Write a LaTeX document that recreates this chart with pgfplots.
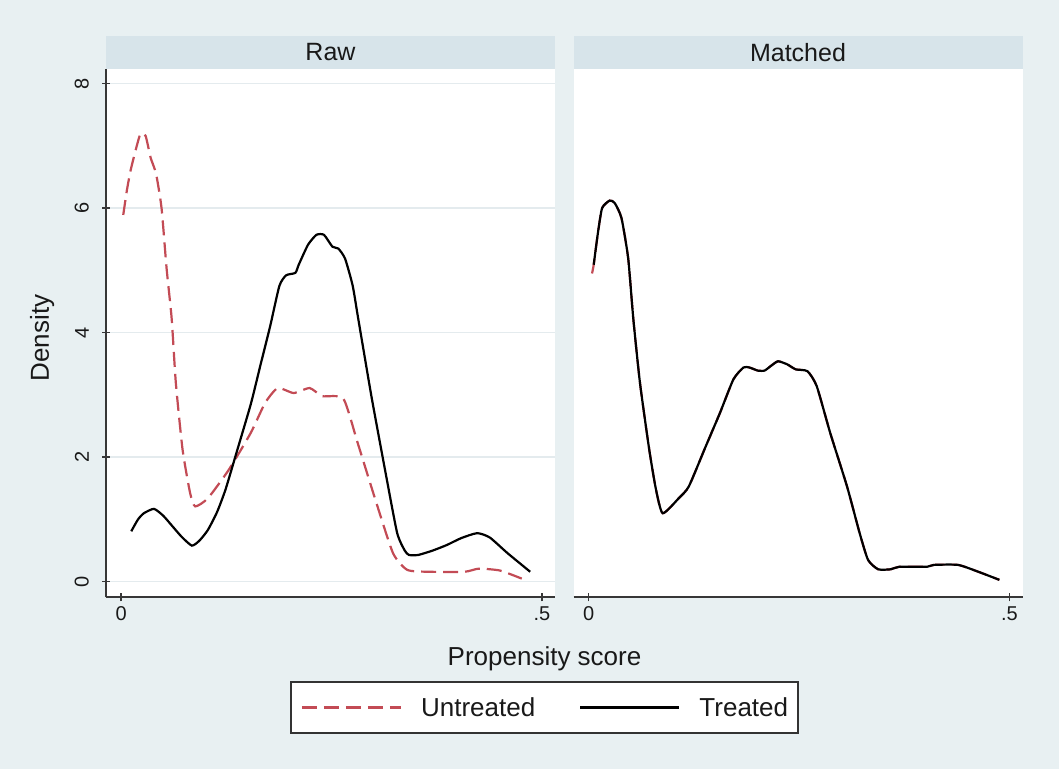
\documentclass[border=0pt]{standalone}
\usepackage{pgfplots}
\pgfplotsset{compat=1.18}
\usepackage{fontspec}
\setmainfont{Liberation Sans}

\definecolor{bgc}{RGB}{232,240,242}
\definecolor{stripc}{RGB}{215,228,234}
\definecolor{gridc}{RGB}{228,235,238}
\definecolor{axisc}{RGB}{55,55,55}
\definecolor{untr}{RGB}{195,75,85}
\definecolor{txtc}{RGB}{25,25,25}

\pgfplotsset{
  panel/.style={
    scale only axis, width=449pt, height=528.3pt, anchor=south west,
    xmin=-0.018, xmax=0.5155, ymin=-0.25, ymax=8.233,
    axis background/.style={fill=white},
    xtick={0,0.5}, xticklabels={0,.5},
    ytick={0,2,4,6,8},
    ymajorgrids, grid style={gridc, line width=1.4pt},
    tick align=outside, major tick length=8pt,
    tick style={axisc, line width=1.4pt},
    every non boxed x axis/.append style={x axis line style=-},
    every non boxed y axis/.append style={y axis line style=-},
    axis line style={-, axisc, line width=1.8pt},
    axis x line=bottom,
    tick label style={font=\fontsize{20pt}{24pt}\selectfont, text=txtc},
    xticklabel style={anchor=north, inner sep=0pt},
    xticklabel shift=5pt,
    every axis title/.style={at={(0.5,1)}, anchor=south, fill=stripc,
      minimum width=449pt, minimum height=33pt, inner sep=0pt, text=txtc,
      font=\fontsize{25pt}{30pt}\selectfont},
    label style={font=\fontsize{26pt}{31pt}\selectfont, text=txtc},
  },
  untreated/.style={untr, line width=2.2pt, dash pattern=on 15pt off 7pt,
    smooth, tension=0.35},
  treated/.style={black, line width=2.2pt, smooth, tension=0.35},
}

\begin{document}
\begin{tikzpicture}
\fill[bgc] (0,0) rectangle (1059pt,769pt);
\useasboundingbox (0,0) rectangle (1059pt,769pt);

% Raw
\begin{axis}[panel, at={(106pt,171.7pt)},
  axis y line=left,
  title={Raw},
  yticklabels={0,2,4,6,8},
  yticklabel style={rotate=90, anchor=south, inner sep=0pt},
  yticklabel shift=13pt,
  xlabel={Propensity score},
  xlabel style={at={(axis description cs:0.9766,-0.1295)}, anchor=base},
  ylabel={Density},
  ylabel style={at={(axis description cs:-0.127,0.491)}, anchor=base},
  legend columns=2,
  legend image code/.code={\draw[#1] (0pt,0pt) -- (99pt,0pt);},
  legend style={at={(axis description cs:0.9766,-0.2086)}, anchor=center,
    draw=black!80, line width=2pt, fill=white,
    font=\fontsize{26pt}{31pt}\selectfont, text=txtc,
    inner xsep=10pt, inner ysep=15pt, nodes={inner sep=0pt},
    /tikz/every odd column/.append style={column sep=19pt},
    /tikz/every even column/.append style={column sep=44pt}},
]
\addplot[untreated] coordinates {
  (0.0025,5.89) (0.007,6.30) (0.012,6.65) (0.0225,7.18) (0.029,7.16)
  (0.035,6.81) (0.0415,6.55) (0.048,6.00) (0.054,5.03) (0.060,4.23)
  (0.065,3.19) (0.073,2.12) (0.082,1.42) (0.088,1.21) (0.103,1.34)
  (0.128,1.80) (0.154,2.39) (0.171,2.87) (0.186,3.11) (0.205,3.03)
  (0.224,3.11) (0.239,2.98) (0.264,2.94) (0.281,2.23) (0.302,1.32)
  (0.323,0.46) (0.340,0.19) (0.366,0.16) (0.408,0.16) (0.425,0.21)
  (0.450,0.18) (0.476,0.05)
};
\addlegendentry{Untreated}
\addplot[treated] coordinates {
  (0.012,0.81) (0.020,1.00) (0.027,1.10) (0.039,1.17) (0.050,1.06)
  (0.061,0.89) (0.072,0.72) (0.084,0.58) (0.093,0.66) (0.103,0.83)
  (0.114,1.12) (0.124,1.48) (0.137,2.07) (0.154,2.85) (0.165,3.45)
  (0.177,4.10) (0.188,4.75) (0.196,4.92) (0.207,4.96) (0.211,5.09)
  (0.222,5.41) (0.232,5.57) (0.241,5.57) (0.251,5.38) (0.258,5.35)
  (0.266,5.19) (0.275,4.76) (0.281,4.28) (0.287,3.80) (0.298,2.93)
  (0.315,1.69) (0.328,0.78) (0.337,0.50) (0.342,0.43) (0.353,0.43)
  (0.370,0.50) (0.387,0.59) (0.404,0.70) (0.423,0.78) (0.438,0.71)
  (0.459,0.46) (0.486,0.16)
};
\addlegendentry{Treated}
\end{axis}

% Matched
\begin{axis}[panel, at={(573.5pt,171.7pt)},
  axis y line=none,
  title={Matched},
  yticklabels={},
  major y tick style={draw=none},
]
\addplot[untreated] coordinates {
  (0.004,4.95) (0.006,5.09) (0.011,5.60) (0.016,6.00) (0.025,6.12)
  (0.031,6.08) (0.039,5.84) (0.047,5.19) (0.053,4.23) (0.061,3.19)
  (0.072,2.12) (0.080,1.48) (0.088,1.10) (0.107,1.34) (0.119,1.53)
  (0.139,2.17) (0.156,2.71) (0.172,3.25) (0.184,3.44) (0.191,3.44)
  (0.201,3.39) (0.209,3.39) (0.217,3.47) (0.225,3.54) (0.236,3.49)
  (0.246,3.41) (0.260,3.38) (0.271,3.14) (0.287,2.39) (0.307,1.53)
  (0.322,0.78) (0.332,0.35) (0.344,0.20) (0.359,0.20) (0.369,0.24)
  (0.402,0.24) (0.410,0.27) (0.439,0.27) (0.463,0.16) (0.488,0.03)
};
\addplot[treated] coordinates {
  (0.006,5.09) (0.011,5.60) (0.016,6.00) (0.025,6.12) (0.031,6.08)
  (0.039,5.84) (0.047,5.19) (0.053,4.23) (0.061,3.19) (0.072,2.12)
  (0.080,1.48) (0.088,1.10) (0.107,1.34) (0.119,1.53) (0.139,2.17)
  (0.156,2.71) (0.172,3.25) (0.184,3.44) (0.191,3.44) (0.201,3.39)
  (0.209,3.39) (0.217,3.47) (0.225,3.54) (0.236,3.49) (0.246,3.41)
  (0.260,3.38) (0.271,3.14) (0.287,2.39) (0.307,1.53) (0.322,0.78)
  (0.332,0.35) (0.344,0.20) (0.359,0.20) (0.369,0.24) (0.402,0.24)
  (0.410,0.27) (0.439,0.27) (0.463,0.16) (0.488,0.03)
};
\end{axis}
\end{tikzpicture}
\end{document}
